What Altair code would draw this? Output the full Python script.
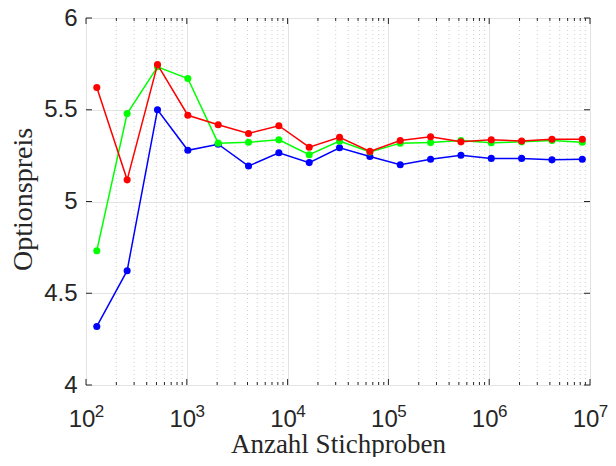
import altair as alt
import pandas as pd

samples = [128, 256, 512, 1024, 2048, 4096, 8192, 16384, 32768, 65536,
           131072, 262144, 524288, 1048576, 2097152, 4194304, 8388608]
blue_vals = [4.319, 4.623, 5.500, 5.279, 5.312, 5.193, 5.266, 5.212, 5.293, 5.245,
             5.200, 5.230, 5.252, 5.235, 5.235, 5.227, 5.230]
green_vals = [4.732, 5.479, 5.734, 5.670, 5.318, 5.323, 5.336, 5.255, 5.329, 5.270,
              5.318, 5.321, 5.332, 5.320, 5.325, 5.332, 5.323]
red_vals = [5.621, 5.118, 5.746, 5.470, 5.418, 5.371, 5.413, 5.296, 5.350, 5.273,
            5.332, 5.353, 5.325, 5.336, 5.330, 5.339, 5.339]
series_names = ["blau", "grün", "rot"]
series_colors = ["#0000ff", "#00ff00", "#ff0000"]

major_ticks = [1e2, 1e3, 1e4, 1e5, 1e6, 1e7]
exponents = ["2", "3", "4", "5", "6", "7"]
minor_ticks = [m * 10 ** k for k in range(2, 7) for m in range(2, 10)]
y_ticks = [4, 4.5, 5, 5.5, 6]

W, H = 504, 367
INK = "#262626"

xscale = alt.Scale(type="log", domain=[100, 1e7], nice=False)
yscale = alt.Scale(domain=[4, 6], nice=False, zero=False)

x_axis = alt.Axis(values=major_ticks, labels=False, ticks=False,
                  domain=False, grid=True, gridColor="#e3e3e3", gridWidth=1,
                  title="Anzahl Stichproben", titleFont="Liberation Serif",
                  titleFontSize=27, titleFontWeight="normal", titleColor=INK,
                  titleBaseline="alphabetic", titleY=67, titleX=W / 2)
y_axis = alt.Axis(values=y_ticks, format="~g", labelFontSize=24,
                  labelFont="Liberation Sans", labelColor=INK, ticks=False,
                  domain=False, grid=True, gridColor="#e3e3e3", gridWidth=1,
                  labelPadding=9, title="Optionspreis", titleFont="Liberation Serif",
                  titleFontSize=28, titleFontWeight="normal", titleColor=INK,
                  titleX=-63, titleY=181, titleAlign="center", titleBaseline="middle",
                  titleAngle=-90, labelFlush=False, labelOverlap=False)

X = alt.X("n:Q", scale=xscale, axis=x_axis)
Y = alt.Y("v:Q", scale=yscale, axis=y_axis)

series_data = [blue_vals, green_vals, red_vals]
rows = []
for name, vals in zip(series_names, series_data):
    for n, v in zip(samples, vals):
        rows.append({"n": n, "v": v, "s": name})
df = pd.DataFrame(rows)

minor_df = pd.DataFrame({"n": minor_ticks})
major_df = pd.DataFrame({"n": major_ticks, "e": exponents, "b": ["10"] * len(major_ticks)})
ytick_df = pd.DataFrame({"v": y_ticks})

minor_grid = alt.Chart(minor_df).mark_rule(color="#cfcfcf", strokeWidth=1,
                                           strokeDash=[1, 3]).encode(
    x=X, y=alt.value(0), y2=alt.value(H))

layers = [minor_grid]
for name, col in zip(series_names, series_colors):
    base = alt.Chart(df).transform_filter(alt.datum.s == name)
    layers.append(base.mark_line(color=col, strokeWidth=1.5).encode(x=X, y=Y))
    layers.append(base.mark_circle(color=col, size=50, opacity=1).encode(x=X, y=Y))

bottom_major = alt.Chart(major_df).mark_rule(color=INK).encode(
    x=X, y=alt.value(H), y2=alt.value(H - 6))
top_major = alt.Chart(major_df).mark_rule(color=INK).encode(
    x=X, y=alt.value(0), y2=alt.value(6))
bottom_minor = alt.Chart(minor_df).mark_rule(color=INK).encode(
    x=X, y=alt.value(H), y2=alt.value(H - 3))
top_minor = alt.Chart(minor_df).mark_rule(color=INK).encode(
    x=X, y=alt.value(0), y2=alt.value(3))
left_ticks = alt.Chart(ytick_df).mark_rule(color=INK).encode(
    y=Y, x=alt.value(0), x2=alt.value(6))
right_ticks = alt.Chart(ytick_df).mark_rule(color=INK).encode(
    y=Y, x=alt.value(W), x2=alt.value(W - 6))
base_text = alt.Chart(major_df).mark_text(
    align="center", baseline="alphabetic", dx=-4, fontSize=24,
    font="Liberation Sans", color=INK).encode(x=X, y=alt.value(H + 41.5), text="b:N")
exp_text = alt.Chart(major_df).mark_text(
    align="center", baseline="alphabetic", dx=13.5, fontSize=17,
    font="Liberation Sans", color=INK).encode(x=X, y=alt.value(H + 31.5), text="e:N")

layers += [bottom_major, top_major, bottom_minor, top_minor, left_ticks, right_ticks,
           base_text, exp_text]

chart = alt.layer(*layers).properties(
    width=W, height=H,
    autosize=alt.AutoSizeParams(type="none"),
    padding={"left": 78, "top": 10, "right": 18, "bottom": 72},
    background="white",
).configure_view(stroke=INK, strokeWidth=1)

chart.save("out.html", embed_options={"renderer": "svg", "actions": False})
